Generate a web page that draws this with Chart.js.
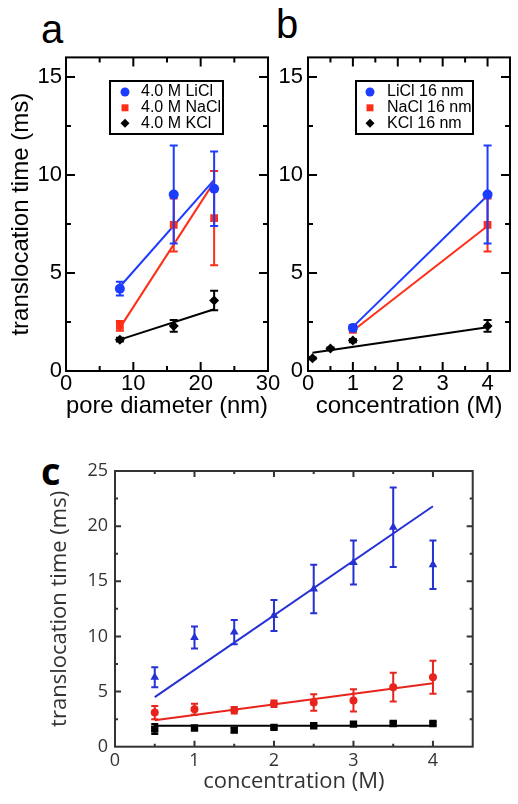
<!DOCTYPE html>
<html>
<head>
<meta charset="utf-8">
<script src="https://cdn.jsdelivr.net/npm/chart.js@4/dist/chart.umd.min.js"></script>
<style>
  body { margin: 0; background: #fff; width: 518px; height: 804px; overflow: hidden; position: relative; }
  canvas { position: absolute; }
  .panel { position: absolute; line-height: 1; color: #000; font-family: "Liberation Sans", Arial, sans-serif; }
</style>
</head>
<body>
<div class="panel" style="left:41px;top:9px;font-size:40px">a</div>
<div class="panel" style="left:276px;top:4px;font-size:40px">b</div>
<div class="panel" style="left:41px;top:451px;font-size:38px;font-weight:bold;font-family:'Open Sans',sans-serif">c</div>
<canvas id="chartA" width="290" height="430" style="left:0;top:0"></canvas>
<canvas id="chartB" width="248" height="430" style="left:270px;top:0"></canvas>
<canvas id="chartC" width="518" height="364" style="left:0;top:440px"></canvas>
<script>
// panel a: 4.0 M salts vs pore diameter
const poreDiameters = [8, 16, 22];
const aLiCl = [4.2, 9.0, 9.3];
const aLiClErr = [0.35, 2.5, 1.9];
const aNaCl = [2.3, 7.45, 7.8];
const aNaClErr = [0.25, 1.35, 2.4];
const aKCl = [1.6, 2.3, 3.6];
const aKClErr = [0.1, 0.3, 0.5];
const aFitX = [8, 22];
const aLiClFit = [4.3, 9.75];
const aNaClFit = [2.2, 9.65];
const aKClFit = [1.6, 3.15];

// panel b: 16 nm pore vs concentration
const bConc = [1, 4];
const bLiCl = [2.2, 9.0];
const bLiClErr = [0.15, 2.5];
const bNaCl = [2.1, 7.45];
const bNaClErr = [0.1, 1.35];
const bKClConc = [0.1, 0.5, 1, 4];
const bKCl = [0.65, 1.15, 1.55, 2.3];
const bKClErr = [0.05, 0.05, 0.08, 0.3];
const bLiClFit = [2.25, 8.95];
const bNaClFit = [2.05, 7.4];
const bKClFitX = [0.1, 4];
const bKClFit = [0.93, 2.23];

// panel c
const cConc = [0.5, 1, 1.5, 2, 2.5, 3, 3.5, 4];
const cLiCl = [6.3, 9.9, 10.4, 11.9, 14.3, 16.7, 19.9, 16.5];
const cLiClErr = [0.9, 1.0, 1.1, 1.4, 2.2, 2.0, 3.6, 2.2];
const cNaCl = [3.1, 3.4, 3.3, 3.9, 4.0, 4.2, 5.4, 6.3];
const cNaClErr = [0.6, 0.5, 0.3, 0.3, 0.75, 1.0, 1.3, 1.5];
const cKCl = [1.6, 1.7, 1.5, 1.75, 1.9, 2.05, 2.1, 2.1];
const cKClErr = [0.45, 0.1, 0.2, 0.1, 0.1, 0.1, 0.15, 0.15];
const cFitX = [0.5, 4];
const cLiClFit = [4.5, 21.8];
const cNaClFit = [2.4, 5.75];
const cKClFit = [1.9, 1.9];

// tick values
const aXTicks = [0, 10, 20, 30];
const abYTicks = [0, 5, 10, 15];
const concTicks = [0, 1, 2, 3, 4];
const cYTicks = [0, 5, 10, 15, 20, 25];

const BLUE = '#1c3cff', RED = '#ff2e17';
const CBLUE = '#2631d4', CRED = '#e8241d', DARK = '#333';
const ARIAL = 'Liberation Sans';

const pts = (xs, ys) => xs.map((x, i) => ({x, y: ys[i]}));

function series(label, xs, ys, errs, color, style, radius, rank) {
  return {
    label, data: pts(xs, ys), errors: errs, legendRank: rank, showLine: false,
    pointStyle: style, pointRadius: radius, pointBorderWidth: 0,
    backgroundColor: color, borderColor: color
  };
}
function fit(xs, ys, color) {
  return { data: pts(xs, ys), showLine: true, pointRadius: 0, borderColor: color, borderWidth: 2, fill: false };
}

function axis(o) {
  return {
    type: 'linear', min: o.min, max: o.max,
    grid: { display: false, drawTicks: false },
    border: { display: false },
    ticks: { padding: o.pad, color: o.color, font: o.font, maxRotation: 0, autoSkip: false },
    title: o.title ? { display: true, text: o.title, color: o.color, font: o.titleFont, padding: o.titlePad } : { display: false },
    afterBuildTicks: s => { s.ticks = o.ticks.map(v => ({ value: v })); },
    afterFit: s => { if (s.isHorizontal()) s.height = o.size; else s.width = o.size; }
  };
}

// box around the plot with inward major/minor ticks on all four sides
const framePlugin = {
  id: 'frame',
  afterDraw(chart, args, o) {
    const { ctx, chartArea: { left, top, right, bottom }, scales: { x, y } } = chart;
    const minors = s => {
      const v = s.ticks.map(t => t.value);
      const half = (v[1] - v[0]) / 2;
      return v.map(t => t + half).filter(t => t < s.max - 1e-6);
    };
    ctx.save();
    ctx.strokeStyle = o.color;
    ctx.lineWidth = o.width;
    ctx.beginPath();
    const xMarks = (vals, len) => vals.forEach(v => {
      const p = x.getPixelForValue(v);
      if (p <= left + 1 || p >= right - 1) return;
      ctx.moveTo(p, bottom); ctx.lineTo(p, bottom - len);
      ctx.moveTo(p, top); ctx.lineTo(p, top + len);
    });
    const yMarks = (vals, len) => vals.forEach(v => {
      const p = y.getPixelForValue(v);
      if (p <= top + 1 || p >= bottom - 1) return;
      ctx.moveTo(left, p); ctx.lineTo(left + len, p);
      ctx.moveTo(right, p); ctx.lineTo(right - len, p);
    });
    xMarks(x.ticks.map(t => t.value), o.major);
    xMarks(minors(x), o.minor);
    yMarks(y.ticks.map(t => t.value), o.major);
    yMarks(minors(y), o.minor);
    ctx.stroke();
    ctx.strokeRect(left, top, right - left, bottom - top);
    ctx.restore();
  }
};

const errorBarPlugin = {
  id: 'errorBars',
  afterDatasetDraw(chart, args, o) {
    const ds = chart.data.datasets[args.index];
    if (!ds.errors) return;
    const { ctx, scales: { y } } = chart;
    ctx.save();
    ctx.strokeStyle = ds.borderColor;
    ctx.lineWidth = o.width;
    ctx.beginPath();
    args.meta.data.forEach((pt, i) => {
      const v = ds.data[i].y, e = ds.errors[i];
      const yTop = y.getPixelForValue(v + e), yBot = y.getPixelForValue(v - e);
      ctx.moveTo(pt.x, yTop); ctx.lineTo(pt.x, yBot);
      ctx.moveTo(pt.x - o.cap, yTop); ctx.lineTo(pt.x + o.cap, yTop);
      ctx.moveTo(pt.x - o.cap, yBot); ctx.lineTo(pt.x + o.cap, yBot);
    });
    ctx.stroke();
    ctx.restore();
  }
};

const boxLegendPlugin = {
  id: 'boxLegend',
  afterDraw(chart, args, o) {
    if (!o.display) return;
    const { ctx } = chart;
    const items = chart.data.datasets.filter(d => d.legendRank).sort((a, b) => a.legendRank - b.legendRank);
    ctx.save();
    ctx.fillStyle = '#fff';
    ctx.fillRect(o.x, o.y, o.w, o.h);
    ctx.strokeStyle = '#000';
    ctx.lineWidth = 2;
    ctx.strokeRect(o.x, o.y, o.w, o.h);
    ctx.font = o.font;
    ctx.textBaseline = 'middle';
    items.forEach((d, i) => {
      const yy = o.rows[i];
      ctx.fillStyle = d.backgroundColor;
      Chart.helpers.drawPoint(ctx, { pointStyle: d.pointStyle, radius: d.pointRadius * 0.9, rotation: 0, borderWidth: 0 }, o.markerX, yy);
      ctx.fillStyle = '#000';
      ctx.fillText(d.label, o.textX, yy);
    });
    ctx.restore();
  }
};

Chart.register(framePlugin, errorBarPlugin, boxLegendPlugin);

const abTick = { family: ARIAL, size: 22 };
const abTitle = { family: ARIAL, size: 24 };

// ---- panel a
new Chart(document.getElementById('chartA'), {
  type: 'scatter',
  data: {
    datasets: [
      series('4.0 M LiCl', poreDiameters, aLiCl, aLiClErr, BLUE, 'circle', 5, 1),
      series('4.0 M NaCl', poreDiameters, aNaCl, aNaClErr, RED, 'rect', 5.5, 2),
      series('4.0 M KCl', poreDiameters, aKCl, aKClErr, '#000', 'rectRot', 5, 3),
      fit(aFitX, aLiClFit, BLUE),
      fit(aFitX, aNaClFit, RED),
      fit(aFitX, aKClFit, '#000')
    ]
  },
  options: {
    responsive: false, animation: false, events: [],
    layout: { padding: { top: 57.4, right: 22, bottom: 0, left: 0 } },
    scales: {
      x: axis({ min: 0, max: 30, ticks: aXTicks, pad: 0, color: '#000', font: abTick, size: 59,
        title: 'pore diameter (nm)', titleFont: abTitle, titlePad: { top: 0, bottom: 9.6 } }),
      y: axis({ min: 0, max: 16, ticks: abYTicks, pad: 4, color: '#000', font: abTick, size: 66,
        title: 'translocation time (ms)', titleFont: abTitle, titlePad: { top: 6.6, bottom: 0 } })
    },
    plugins: {
      legend: { display: false }, tooltip: { enabled: false },
      frame: { color: '#000', width: 2, major: 9, minor: 5 },
      errorBars: { width: 2, cap: 4 },
      boxLegend: { display: true, x: 110, y: 81, w: 113, h: 53, markerX: 125, textX: 141,
        rows: [92, 107.8, 123.3], font: '16px "Liberation Sans"' }
    }
  }
});

// ---- panel b
new Chart(document.getElementById('chartB'), {
  type: 'scatter',
  data: {
    datasets: [
      series('LiCl 16 nm', bConc, bLiCl, bLiClErr, BLUE, 'circle', 5, 1),
      series('NaCl 16 nm', bConc, bNaCl, bNaClErr, RED, 'rect', 5.5, 2),
      series('KCl 16 nm', bKClConc, bKCl, bKClErr, '#000', 'rectRot', 5, 3),
      fit(bConc, bLiClFit, BLUE),
      fit(bConc, bNaClFit, RED),
      fit(bKClFitX, bKClFit, '#000')
    ]
  },
  options: {
    responsive: false, animation: false, events: [],
    layout: { padding: { top: 57.4, right: 8, bottom: 0, left: 0 } },
    scales: {
      x: axis({ min: 0, max: 4.5, ticks: concTicks, pad: 0, color: '#000', font: abTick, size: 59,
        title: 'concentration (M)', titleFont: abTitle, titlePad: { top: 0, bottom: 9.6 } }),
      y: axis({ min: 0, max: 16, ticks: abYTicks, pad: 5, color: '#000', font: abTick, size: 38 })
    },
    plugins: {
      legend: { display: false }, tooltip: { enabled: false },
      frame: { color: '#000', width: 2, major: 9, minor: 5 },
      errorBars: { width: 2, cap: 4 },
      boxLegend: { display: true, x: 86, y: 81, w: 117, h: 53, markerX: 100, textX: 117,
        rows: [92, 107.8, 123.3], font: '16px "Liberation Sans"' }
    }
  }
});

// ---- panel c
const cTick = { family: 'Open Sans', size: 18 };
const cTitle = { family: 'Open Sans', size: 22 };
new Chart(document.getElementById('chartC'), {
  type: 'scatter',
  data: {
    datasets: [
      series('LiCl', cConc, cLiCl, cLiClErr, CBLUE, 'triangle', 5, 0),
      series('NaCl', cConc, cNaCl, cNaClErr, CRED, 'circle', 4, 0),
      series('KCl', cConc, cKCl, cKClErr, '#000', 'rect', 5.2, 0),
      fit(cFitX, cLiClFit, CBLUE),
      fit(cFitX, cNaClFit, CRED),
      fit(cFitX, cKClFit, '#000')
    ]
  },
  options: {
    responsive: false, animation: false, events: [],
    layout: { padding: { top: 31, right: 45.3, bottom: 0, left: 0 } },
    scales: {
      x: axis({ min: 0, max: 4.5, ticks: concTicks, pad: 3.5, color: DARK, font: cTick, size: 57.3,
        title: 'concentration (M)', titleFont: cTitle, titlePad: { top: 0, bottom: 8.8 } }),
      y: axis({ min: 0, max: 25, ticks: cYTicks, pad: 7, color: DARK, font: cTick, size: 115,
        title: 'translocation time (ms)', titleFont: cTitle, titlePad: { top: 46.8, bottom: 0 } })
    },
    plugins: {
      legend: { display: false }, tooltip: { enabled: false },
      frame: { color: DARK, width: 2, major: 6, minor: 3 },
      errorBars: { width: 2, cap: 3.5 },
      boxLegend: { display: false }
    }
  }
});
</script>
</body>
</html>
